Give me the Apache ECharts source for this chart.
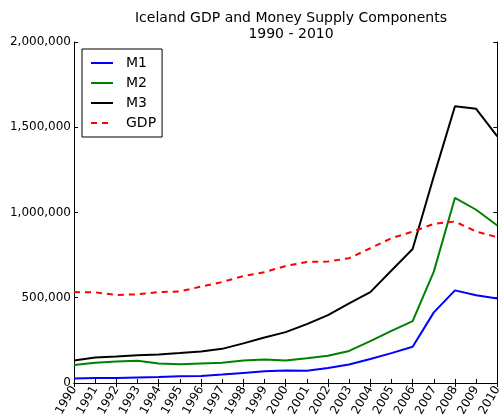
<!DOCTYPE html>
<html>
<head>
<meta charset="utf-8">
<script src="https://cdn.jsdelivr.net/npm/echarts@6/dist/echarts.min.js"></script>
<style>
  html, body { margin: 0; padding: 0; background: #fff; }
  #chart { width: 504px; height: 419px; }
</style>
</head>
<body>
<div id="chart"></div>
<script>
const years = ['1990', '1991', '1992', '1993', '1994', '1995', '1996', '1997', '1998', '1999', '2000',
  '2001', '2002', '2003', '2004', '2005', '2006', '2007', '2008', '2009', '2010'];

const m1 = [26000, 29000, 29000, 32000, 35000, 39000, 41000, 49000, 59000, 69000, 73000,
  71000, 88000, 108000, 141000, 175000, 212000, 414000, 543000, 514000, 496000];
const m2 = [106000, 118000, 126000, 130000, 114000, 110000, 114000, 118000, 132000, 137000, 132000,
  145000, 159000, 188000, 245000, 306000, 363000, 653000, 1086000, 1016000, 924000];
const m3 = [132000, 149000, 155000, 163000, 167000, 175000, 185000, 200000, 232000, 267000, 298000,
  345000, 398000, 467000, 533000, 660000, 786000, 1212000, 1623000, 1608000, 1447000];
const gdp = [533000, 532000, 516000, 520000, 533000, 537000, 565000, 592000, 627000, 650000, 686000,
  710000, 712000, 732000, 790000, 849000, 888000, 933000, 947000, 888000, 855000];

const font = 'DejaVu Sans';

const chart = echarts.init(document.getElementById('chart'));

function lineSeries(name, data, color, type) {
  return {
    name: name,
    type: 'line',
    data: data,
    symbol: 'none',
    smooth: false,
    lineStyle: { color: color, width: 2, type: type || 'solid' },
    itemStyle: { color: color }
  };
}

chart.setOption({
  animation: false,
  title: {
    text: 'Iceland GDP and Money Supply Components\n1990 - 2010',
    left: 286,
    textAlign: 'center',
    top: 5,
    textStyle: { fontFamily: font, fontSize: 14, fontWeight: 'normal', color: '#000', lineHeight: 16 }
  },
  legend: {
    orient: 'vertical',
    left: 82,
    top: 49,
    padding: [7, 6, 7, 8],
    itemGap: 6,
    itemWidth: 22,
    itemHeight: 14,
    borderColor: '#000',
    borderWidth: 1,
    backgroundColor: '#fff',
    itemStyle: { opacity: 0 },
    textStyle: { fontFamily: font, fontSize: 14, color: '#000', padding: [0, 0, 0, 8] },
    data: ['M1', 'M2', 'M3', 'GDP']
  },
  grid: { left: 74, right: 5, top: 42, bottom: 36 },
  xAxis: [{
    type: 'category',
    data: years,
    boundaryGap: false,
    axisLine: { lineStyle: { color: '#000', width: 1 } },
    axisTick: { inside: true, length: 4, lineStyle: { color: '#000' } },
    axisLabel: { rotate: 60, fontFamily: font, fontSize: 12, color: '#000', margin: 4, interval: 0 },
    splitLine: { show: false }
  }, {
    type: 'category',
    data: years,
    boundaryGap: false,
    position: 'top',
    axisLine: { lineStyle: { color: '#000', width: 1 } },
    axisTick: { inside: true, length: 4, lineStyle: { color: '#000' } },
    axisLabel: { show: false },
    splitLine: { show: false }
  }],
  yAxis: [{
    type: 'value',
    min: 0,
    max: 2000000,
    interval: 500000,
    axisLine: { show: true, lineStyle: { color: '#000', width: 1 } },
    axisTick: { show: true, inside: true, length: 4, lineStyle: { color: '#000' } },
    axisLabel: {
      fontFamily: font, fontSize: 12, color: '#000', margin: 3,
      formatter: v => v.toLocaleString('en-US')
    },
    splitLine: { show: false }
  }, {
    type: 'value',
    min: 0,
    max: 2000000,
    interval: 500000,
    position: 'right',
    axisLine: { show: true, lineStyle: { color: '#000', width: 1 } },
    axisTick: { show: true, inside: true, length: 4, lineStyle: { color: '#000' } },
    axisLabel: { show: false },
    splitLine: { show: false }
  }],
  series: [
    lineSeries('M1', m1, '#0000ff'),
    lineSeries('M2', m2, '#008000'),
    lineSeries('M3', m3, '#000000'),
    lineSeries('GDP', gdp, '#ff0000', [6, 5])
  ]
});
</script>
</body>
</html>
